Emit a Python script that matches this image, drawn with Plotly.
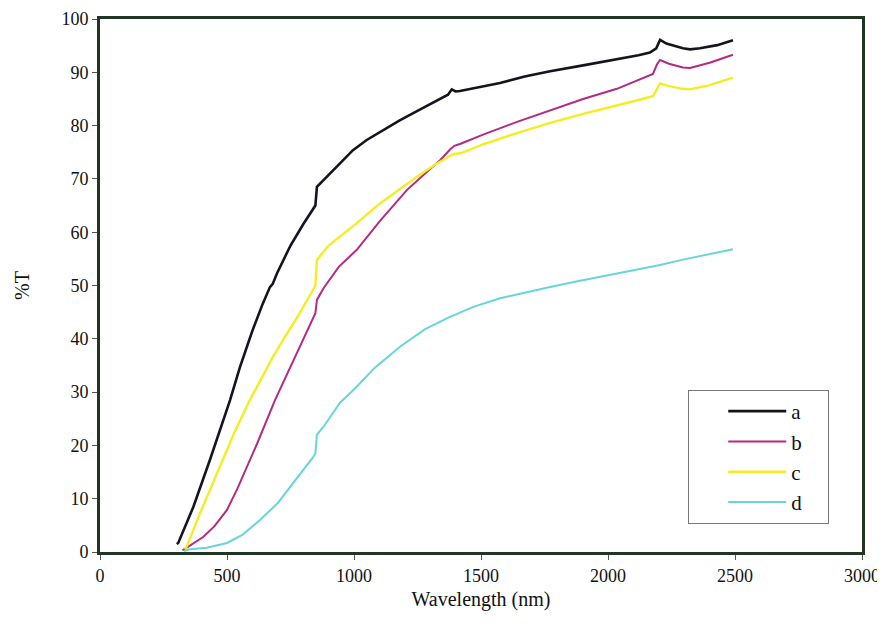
import plotly.graph_objects as go

# wavelength (nm) / %T
a_x = [302, 308, 367, 433, 512, 551, 600, 640, 669, 680, 697, 750, 800, 839, 848, 854, 900, 996,
       1050, 1114, 1180, 1248, 1310, 1370, 1385, 1400, 1417, 1500, 1575, 1672, 1772, 1902, 2035,
       2120, 2165, 2190, 2205, 2230, 2295, 2323, 2362, 2430, 2492]
a_y = [1.5, 1.7, 8.4, 17.3, 28.5, 34.7, 41.5, 46.5, 49.7, 50.3, 52.3, 57.5, 61.5, 64.2, 65.0, 68.5, 70.8, 75.4,
       77.3, 79.2, 81.0, 82.7, 84.3, 85.8, 86.8, 86.4, 86.5, 87.3, 88.0, 89.2, 90.2, 91.3, 92.4,
       93.2, 93.7, 94.5, 96.1, 95.4, 94.5, 94.3, 94.5, 95.1, 96.0]

b_x = [325, 347, 406, 450, 500, 540, 578, 620, 689, 750, 800, 840, 848, 854, 880, 940, 1011, 1100,
       1208, 1280, 1339, 1378, 1395, 1420, 1508, 1642, 1772, 1902, 2035, 2120, 2177, 2193, 2205,
       2240, 2295, 2323, 2400, 2492]
b_y = [0.3, 1.0, 2.8, 4.8, 7.9, 11.8, 16.0, 20.5, 28.5, 34.8, 39.8, 44.0, 44.8, 47.3, 49.5, 53.5, 56.7, 62.0,
       67.9, 71.0, 73.5, 75.5, 76.2, 76.6, 78.3, 80.7, 82.9, 85.0, 86.9, 88.5, 89.7, 91.5, 92.3,
       91.6, 90.9, 90.8, 91.8, 93.3]

c_x = [335, 341, 394, 472, 530, 590, 640, 681, 730, 780, 839, 848, 854, 900, 1011, 1100, 1248, 1320,
       1378, 1395, 1420, 1508, 1642, 1772, 1902, 2035, 2120, 2177, 2195, 2205, 2240, 2295, 2323,
       2400, 2492]
c_y = [0.5, 1.0, 7.3, 16.0, 22.5, 28.5, 33.0, 36.6, 40.5, 44.3, 49.2, 50.0, 54.8, 57.5, 61.7, 65.3, 70.4, 72.7,
       74.3, 74.7, 74.8, 76.5, 78.6, 80.5, 82.2, 83.7, 84.8, 85.5, 87.2, 87.9, 87.4, 86.9, 86.8,
       87.6, 89.0]

d_x = [330, 354, 420, 500, 560, 630, 700, 760, 800, 839, 848, 854, 880, 945, 1000, 1080, 1181, 1280,
       1378, 1470, 1575, 1672, 1772, 1870, 1969, 2100, 2200, 2300, 2400, 2492]
d_y = [0.2, 0.5, 0.8, 1.7, 3.2, 6.0, 9.2, 12.9, 15.3, 17.8, 18.5, 22.0, 23.5, 28.0, 30.5, 34.5, 38.5, 41.8,
       44.1, 46.0, 47.6, 48.7, 49.7, 50.7, 51.6, 52.8, 53.8, 54.9, 55.9, 56.8]

names = ['a', 'b', 'c', 'd']
colors = ['#14141e', '#b32a86', '#f3ee22', '#66d6da']
widths = [2.6, 2, 2.4, 2]

fig = go.Figure()
for nm, xs, ys, col, w in zip(names, [a_x, b_x, c_x, d_x], [a_y, b_y, c_y, d_y], colors, widths):
    # trailing no-break spaces pad the legend box on the right like the original
    fig.add_trace(go.Scatter(x=xs, y=ys, mode='lines', name=nm + '\u00a0' * 4,
                             line=dict(color=col, width=w)))

axis_style = dict(showline=True, mirror=True, linewidth=3, linecolor='#203523',
                  ticks='outside', ticklen=5, tickcolor='#555555', showgrid=False,
                  zeroline=False, automargin=False, ticklabeloverflow='allow',
                  tickfont=dict(size=18, color='#111111'))

fig.update_xaxes(range=[0, 3000], dtick=500, **axis_style,
                 title=dict(text='Wavelength (nm)', font=dict(size=20, color='#111111'), standoff=8))
fig.update_yaxes(range=[0, 100], dtick=10, **axis_style,
                 title=dict(text='%T', font=dict(size=20, color='#111111'), standoff=27))

# page body has an 8px margin; figure runs to the window's right edge
fig.update_layout(
    width=877, height=613,
    margin=dict(l=92, r=23, t=11, b=69),
    plot_bgcolor='white', paper_bgcolor='white',
    font=dict(family='Liberation Serif'),
    legend=dict(x=0.957, y=0.0525, xanchor='right', yanchor='bottom',
                bordercolor='#777777', borderwidth=1, bgcolor='white',
                itemwidth=58, indentation=34,
                font=dict(size=21, color='#111111')),
)

fig.write_html("out.html")
